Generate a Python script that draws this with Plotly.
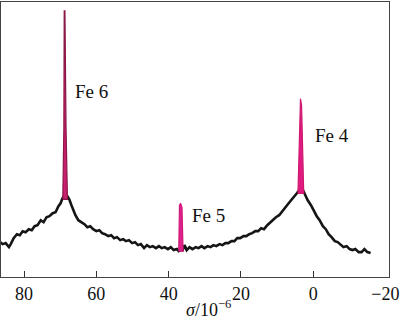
import plotly.graph_objects as go

# Spectrum baseline (chemical shift sigma / 1e-6, intensity in arbitrary units)
sigma = [86.7, 85.9, 85.1, 84.2, 83.7, 82.9, 82.0, 81.2, 80.4, 79.6, 78.7, 77.9, 77.1, 76.3,
         75.4, 74.6, 73.8, 73.0, 72.1, 71.3, 70.5, 69.9, 69.4, 69.1, 68.6, 68.0, 67.5,
         66.9, 66.4, 65.8, 65.0, 64.2, 63.3, 62.5, 61.7, 60.9, 60.0, 59.2, 58.4, 57.6,
         56.7, 55.9, 55.1, 54.3, 53.4, 52.6, 51.8, 51.0, 50.1, 49.3, 48.5, 47.7, 46.8,
         46.0, 45.2, 44.4, 43.5, 42.7, 41.9, 41.1, 40.2, 39.4, 38.6, 37.7, 37.2, 36.7,
         36.1, 35.6, 35.0, 34.2, 33.4, 32.5, 31.7, 30.9, 30.1, 29.2, 28.4, 27.6, 26.8,
         25.9, 25.1, 24.3, 23.5, 22.6, 21.8, 21.0, 20.2, 19.3, 18.5, 17.7, 16.9, 16.0,
         15.2, 14.4, 13.6, 12.7, 11.9, 11.1, 10.3, 9.4, 8.6, 7.8, 7.0, 6.1, 5.3, 4.5,
         3.9, 3.4, 2.8, 2.3, 1.5, 0.6, -0.2, -1.0, -1.8, -2.7, -3.5, -4.3, -5.1, -6.0,
         -6.8, -7.6, -8.4, -9.3, -10.1, -10.9, -11.7, -12.6, -13.4, -14.2, -15.0, -15.9]
intensity = [35, 33, 34, 30, 33, 39, 43, 42, 46, 45, 48, 47, 51, 52,
             57, 55, 60, 61, 64, 65, 71, 74, 79, 81, 83, 81, 78,
             72, 67, 62, 57, 55, 53, 50, 51, 48, 46, 47, 44, 43,
             41, 42, 39, 40, 37, 38, 36, 37, 34, 35, 32, 33, 29,
             32, 30, 31, 29, 31, 29, 30, 28, 30, 27, 28, 26, 27,
             27, 32, 27, 30, 28, 30, 29, 31, 29, 31, 30, 32, 31,
             33, 32, 34, 34, 36, 36, 39, 39, 41, 41, 43, 44, 46,
             46, 49, 48, 52, 55, 57, 60, 62, 66, 69, 73, 77, 80, 84,
             87, 89, 87, 83, 77, 72, 66, 61, 57, 51, 48, 43, 40, 36,
             35, 32, 30, 31, 28, 27, 28, 25, 25, 28, 25, 24]

# Peak outlines (magenta)
fe6_sigma = [69.3, 69.0, 68.9, 68.7, 68.4, 68.0]
fe6_int = [78, 150, 267, 267, 150, 78]
fe5_sigma = [37.2, 37.0, 36.7, 36.3, 36.0]
fe5_int = [26, 72, 74, 70, 26]
fe4_sigma = [4.2, 3.7, 3.5, 3.2, 2.6]
fe4_int = [84, 175, 179, 172, 84]

peak_labels = ["Fe 6", "Fe 5", "Fe 4"]
label_sigma = [66.35, 34.2, 0.15]
label_int = [186, 62, 142]

tick_vals = [80, 60, 40, 20, 0, -20]
tick_text = ["80", "60", "40", "20", "0", "\u221220"]
tick_marks = [80, 60, 40, 20, 0]

serif = "Liberation Serif"

fig = go.Figure()
fig.add_trace(go.Scatter(x=sigma, y=intensity, mode="lines",
                         line=dict(color="#151515", width=2.6), hoverinfo="skip"))
for xs, ys, fc, lc in [(fe6_sigma, fe6_int, "#c81e6e", "#8a1846"),
                       (fe5_sigma, fe5_int, "#e0208a", "#d01a7a"),
                       (fe4_sigma, fe4_int, "#e01a80", "#d0186f")]:
    fig.add_trace(go.Scatter(x=xs + [xs[0]], y=ys + [ys[0]], mode="lines", fill="toself",
                             fillcolor=fc, line=dict(color=lc, width=1.2), hoverinfo="skip"))
# invisible trace for tick-mark axis
fig.add_trace(go.Scatter(x=[0], y=[0], xaxis="x2", mode="markers",
                         marker=dict(opacity=0), hoverinfo="skip"))

for t, xv, yv in zip(peak_labels, label_sigma, label_int):
    fig.add_annotation(x=xv, y=yv, text=t, showarrow=False, xanchor="left", yanchor="middle",
                       font=dict(family=serif, size=19, color="#111"))

fig.add_annotation(xref="paper", yref="paper", x=0.5345, y=-0.116,
                   text="<i>σ</i>/10<sup>\u22126</sup>", showarrow=False,
                   xanchor="center", yanchor="middle",
                   font=dict(family=serif, size=18, color="#111"))

xrange = [86.4, -21.0]
fig.update_layout(
    width=400, height=324,
    margin=dict(l=1, r=8, t=1, b=47),
    paper_bgcolor="white", plot_bgcolor="white",
    showlegend=False,
    font=dict(family=serif),
    xaxis=dict(range=xrange, tickvals=tick_vals, ticktext=tick_text, ticks="",
               ticklabeloverflow="allow",
               showgrid=False, zeroline=False, showline=True, mirror=True,
               linecolor="#444", linewidth=1.2,
               tickfont=dict(family=serif, size=18, color="#111")),
    xaxis2=dict(range=xrange, overlaying="x", side="bottom", tickvals=tick_marks,
                ticks="inside", ticklen=6, tickwidth=1.2, tickcolor="#333",
                showticklabels=False, showgrid=False, zeroline=False, showline=False),
    yaxis=dict(range=[0, 276], showticklabels=False, ticks="", showgrid=False,
               zeroline=False, showline=True, mirror=True, linecolor="#444", linewidth=1.2),
)

fig.write_html("out.html")
